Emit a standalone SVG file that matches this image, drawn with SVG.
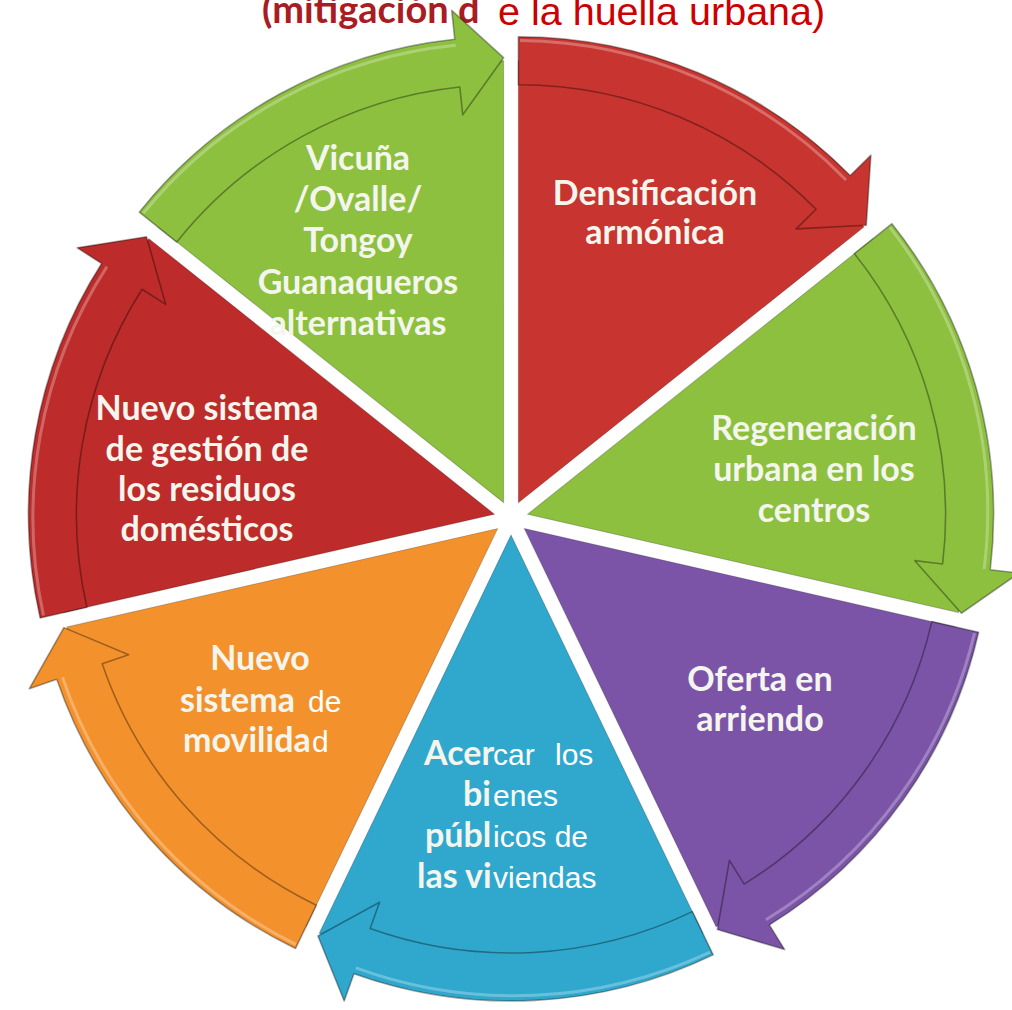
<svg xmlns="http://www.w3.org/2000/svg" xmlns:xlink="http://www.w3.org/1999/xlink" width="1012" height="1010" viewBox="0 0 1012 1010">
<style>
  .body{stroke:rgba(0,0,0,0.22);stroke-width:1}
  .band{stroke:rgba(0,0,0,0.35);stroke-width:1.6;stroke-linejoin:round}
  .hi{fill:none;stroke:rgba(255,255,255,0.28);stroke-width:3}
  .red{fill:#c8342f}
  .redl{fill:#bd2c2a}
  .green{fill:#8dc03f}
  .purple{fill:#7b54a8}
  .blue{fill:#30a8ce}
  .orange{fill:#f3922d}
  .lbl{font-family:Lato,"Open Sans","Liberation Sans",sans-serif;font-weight:700;font-size:34px;fill:#f4f6ee;text-anchor:middle}
  .lbs{font-family:Lato,"Open Sans","Liberation Sans",sans-serif;font-weight:700;font-size:34px;fill:#f4f6ee}
  .reg{font-family:"Liberation Sans",Arial,sans-serif;font-weight:400;font-size:30px;fill:#ffffff}
</style>
<defs>
  <path id="segBody" d="M 518.38 502.68 L 518.38 60.68 A 442 442 0 0 1 863.95 227.10 Z"/>
  <path id="segBand" d="M 518.38 36.68 A 466 466 0 0 1 850.24 175.53 L 870.89 155.18 L 866.29 225.23 L 796.12 228.89 L 816.06 209.23 A 418 418 0 0 0 518.38 84.68 Z"/>
  <path id="segHi" d="M 520 40.5 A 462 462 0 0 1 846 180"/>
</defs>
<rect x="0" y="0" width="1012" height="1010" fill="#ffffff"/>
<g id="title">
  <text x="262" y="23" font-family="Lato,'Liberation Sans',sans-serif" font-weight="700" font-size="38" fill="#a81c22">(mitigación d</text>
  <text x="498" y="25" font-family="'Liberation Sans',Arial,sans-serif" font-size="39.5" fill="#cc0000">e la huella urbana)</text>
</g>
<g id="nodes">
  <g id="node-vicuna" class="green">
    <use xlink:href="#segBody" class="body" transform="rotate(308.5714 511 518)"/>
    <text class="lbl" x="358"><tspan x="358" y="170">Vicuña</tspan><tspan x="358" y="211">/Ovalle/</tspan><tspan x="358" y="252">Tongoy</tspan><tspan x="358" y="294">Guanaqueros</tspan><tspan x="358" y="335">alternativas</tspan></text>
  </g>
  <g id="node-densificacion" class="red">
    <use xlink:href="#segBody" class="body"/>
    <text class="lbl"><tspan x="655" y="205">Densificación</tspan><tspan x="655" y="244">armónica</tspan></text>
  </g>
  <g id="node-regeneracion" class="green">
    <use xlink:href="#segBody" class="body" transform="rotate(51.4286 511 518)"/>
    <text class="lbl"><tspan x="814" y="440">Regeneración</tspan><tspan x="814" y="481">urbana en los</tspan><tspan x="814" y="522">centros</tspan></text>
  </g>
  <g id="node-oferta" class="purple">
    <use xlink:href="#segBody" class="body" transform="rotate(102.8571 511 518)"/>
    <text class="lbl"><tspan x="760" y="691">Oferta en</tspan><tspan x="760" y="731">arriendo</tspan></text>
  </g>
  <g id="node-acercar" class="blue">
    <use xlink:href="#segBody" class="body" transform="rotate(154.2857 511 518)"/>
    <text class="lbs"><tspan x="424" y="765">Acer</tspan><tspan x="463" y="806">bi</tspan><tspan x="425" y="847">públ</tspan><tspan x="417" y="888">las vi</tspan></text>
    <text class="reg"><tspan x="493" y="765">car</tspan><tspan x="555" y="765">los</tspan><tspan x="493" y="806">enes</tspan><tspan x="493" y="847">icos de</tspan><tspan x="493" y="888">viendas</tspan></text>
  </g>
  <g id="node-movilidad" class="orange">
    <use xlink:href="#segBody" class="body" transform="rotate(205.7143 511 518)"/>
    <text class="lbl"><tspan x="260" y="670">Nuevo</tspan></text>
    <text class="lbs"><tspan x="180" y="712">sistema</tspan><tspan x="183" y="752">movilida</tspan></text>
    <text class="reg"><tspan x="308" y="712">de</tspan><tspan x="312" y="752">d</tspan></text>
  </g>
  <g id="node-residuos" class="redl">
    <use xlink:href="#segBody" class="body" transform="rotate(257.1429 511 518)"/>
    <text class="lbl"><tspan x="207" y="420">Nuevo sistema</tspan><tspan x="207" y="461">de gestión de</tspan><tspan x="207" y="501">los residuos</tspan><tspan x="207" y="541">domésticos</tspan></text>
  </g>
</g>
<g id="connectors">
  <use xlink:href="#segBand" class="band green" transform="rotate(308.5714 511 518)"/>
  <use xlink:href="#segBand" class="band red"/>
  <use xlink:href="#segBand" class="band green" transform="rotate(51.4286 511 518)"/>
  <use xlink:href="#segBand" class="band purple" transform="rotate(102.8571 511 518)"/>
  <use xlink:href="#segBand" class="band blue" transform="rotate(154.2857 511 518)"/>
  <use xlink:href="#segBand" class="band orange" transform="rotate(205.7143 511 518)"/>
  <use xlink:href="#segBand" class="band redl" transform="rotate(257.1429 511 518)"/>
  <g class="hi">
    <use xlink:href="#segHi" transform="rotate(308.5714 511 518)"/>
    <use xlink:href="#segHi"/>
    <use xlink:href="#segHi" transform="rotate(51.4286 511 518)"/>
    <use xlink:href="#segHi" transform="rotate(102.8571 511 518)"/>
    <use xlink:href="#segHi" transform="rotate(154.2857 511 518)"/>
    <use xlink:href="#segHi" transform="rotate(205.7143 511 518)"/>
    <use xlink:href="#segHi" transform="rotate(257.1429 511 518)"/>
  </g>
</g>
</svg>
